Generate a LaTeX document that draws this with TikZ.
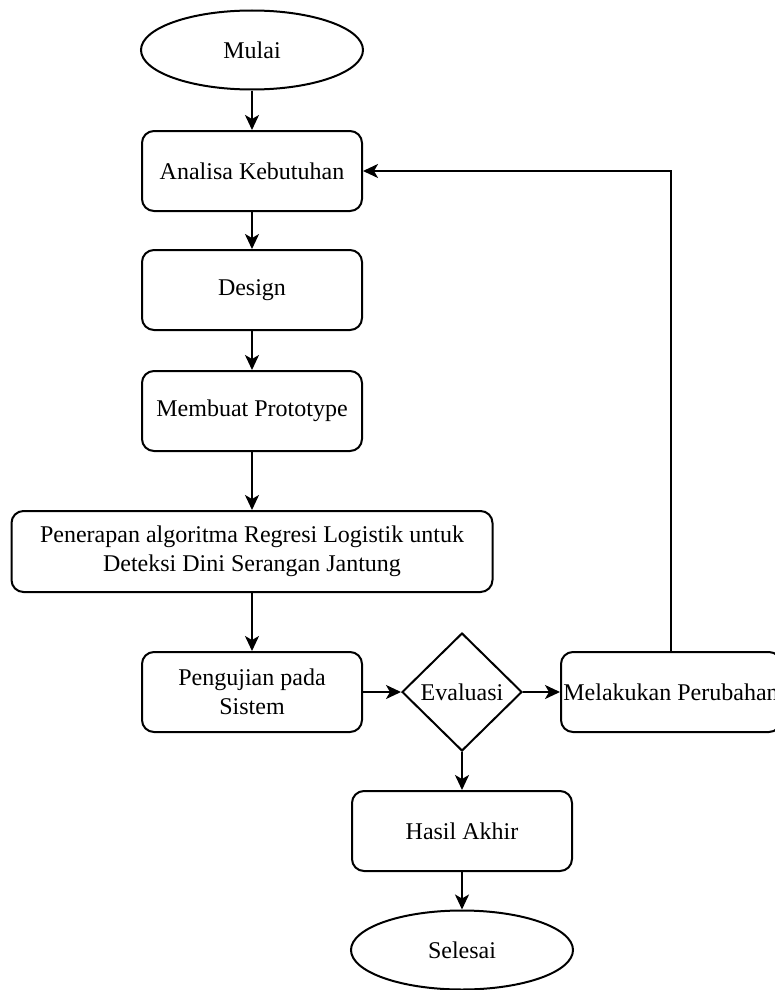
\documentclass[tikz,border=0pt]{standalone}
\usepackage{fontspec}
\setmainfont{Liberation Serif}
\usepackage{tikz}
\usetikzlibrary{shapes, shapes.geometric, arrows.meta, positioning}

\begin{document}
\begin{tikzpicture}
  [
    x=1pt, y=-1pt,
    font=\fontsize{24}{29}\selectfont,
    Oval/.style={ellipse, draw=black, line width=2pt, inner sep=0pt, minimum width=222pt, minimum height=79pt},
    Box/.style={rectangle, rounded corners=12pt, draw=black, line width=2pt, inner sep=0pt, minimum width=220pt, minimum height=80pt, align=center},
    Wide/.style={Box, minimum width=481pt, minimum height=81pt},
    Decision/.style={diamond, draw=black, line width=2pt, inner sep=0pt, minimum width=120pt, minimum height=118pt},
    Line/.style={-{Stealth[length=15pt, width=14pt, inset=4pt]}, draw, line width=2pt}
  ]
  \useasboundingbox (0, 0) rectangle (774, 990);

  % Nodes
  \node[Oval] (v0) at(252, 50) {Mulai};

  \node[Box] (v1) at(252, 171) {Analisa Kebutuhan};

  \node[Box] (v2) at(252, 290) {Design};

  \node[Box] (v3) at(252, 411) {Membuat Prototype};

  \node[Wide] (v4) at(252, 551.5) {Penerapan algoritma Regresi Logistik untuk\\Deteksi Dini Serangan Jantung};

  \node[Box] (v5) at(252, 692) {Pengujian pada\\Sistem};

  \node[Decision] (v6) at(462, 692) {Evaluasi};

  \node[Box] (v7) at(671, 692) {Melakukan Perubahan};

  \node[Box] (v8) at(462, 831) {Hasil Akhir};

  \node[Oval] (v9) at(462, 950) {Selesai};

  % Lines
  \path [Line] (v0) -- (v1);
  \path [Line] (v1) -- (v2);
  \path [Line] (v2) -- (v3);
  \path [Line] (v3) -- (v4);
  \path [Line] (v4) -- (v5);
  \path [Line] (v5) -- (v6);
  \path [Line] (v6) -- (v7);
  \path [Line] (v6) -- (v8);
  \path [Line] (v8) -- (v9);
  \path [Line] (v7.north) |- (v1.east);

\end{tikzpicture}
\end{document}
